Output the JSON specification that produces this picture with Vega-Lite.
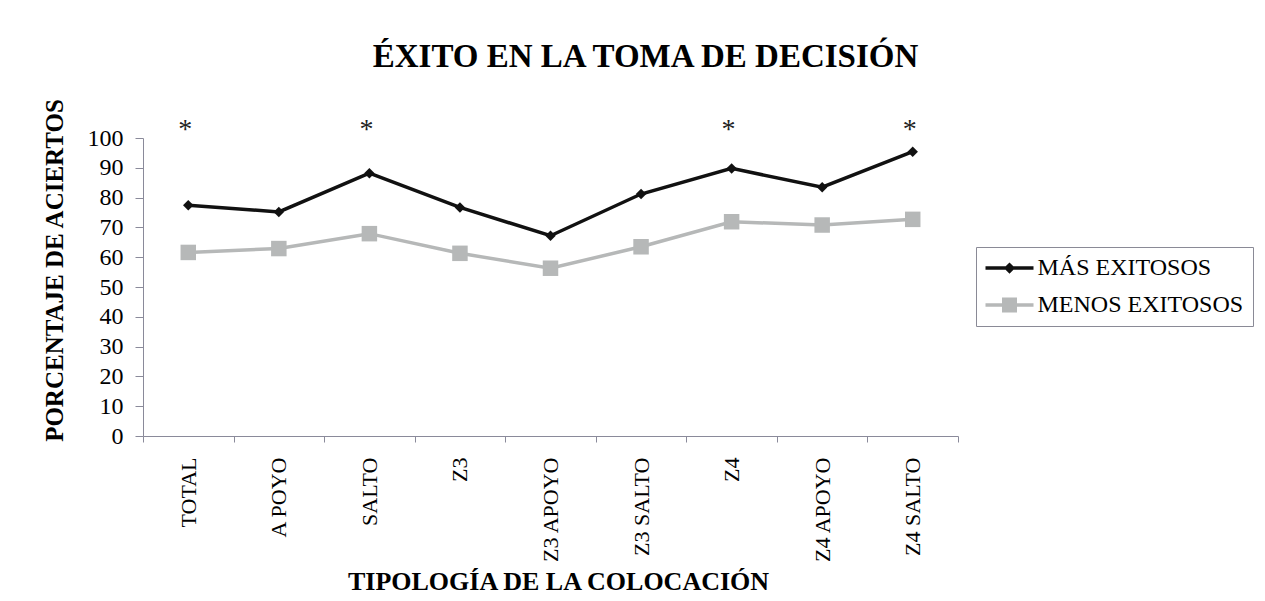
{
  "$schema": "https://vega.github.io/schema/vega-lite/v6.json",
  "autosize": {"type": "none"},
  "padding": {"left": 143, "top": 138, "right": 307, "bottom": 165},
  "width": 815,
  "height": 298,
  "background": "white",
  "config": {"view": {"stroke": null}},
  "title": {"text": "ÉXITO EN LA TOMA DE DECISIÓN", "font": "Liberation Serif", "fontSize": 33, "fontWeight": "bold", "color": "black", "anchor": "middle", "dx": 95, "offset": 24},
  "datasets": {
    "series": [
      {"tipo": "TOTAL", "grupo": "MÁS EXITOSOS", "valor": 77.4},
      {"tipo": "A POYO", "grupo": "MÁS EXITOSOS", "valor": 75.2},
      {"tipo": "SALTO", "grupo": "MÁS EXITOSOS", "valor": 88.2},
      {"tipo": "Z3", "grupo": "MÁS EXITOSOS", "valor": 76.7},
      {"tipo": "Z3 APOYO", "grupo": "MÁS EXITOSOS", "valor": 67.2},
      {"tipo": "Z3 SALTO", "grupo": "MÁS EXITOSOS", "valor": 81.2},
      {"tipo": "Z4", "grupo": "MÁS EXITOSOS", "valor": 89.8},
      {"tipo": "Z4 APOYO", "grupo": "MÁS EXITOSOS", "valor": 83.5},
      {"tipo": "Z4 SALTO", "grupo": "MÁS EXITOSOS", "valor": 95.4},
      {"tipo": "TOTAL", "grupo": "MENOS EXITOSOS", "valor": 61.6},
      {"tipo": "A POYO", "grupo": "MENOS EXITOSOS", "valor": 62.9},
      {"tipo": "SALTO", "grupo": "MENOS EXITOSOS", "valor": 67.9},
      {"tipo": "Z3", "grupo": "MENOS EXITOSOS", "valor": 61.3},
      {"tipo": "Z3 APOYO", "grupo": "MENOS EXITOSOS", "valor": 56.3},
      {"tipo": "Z3 SALTO", "grupo": "MENOS EXITOSOS", "valor": 63.5},
      {"tipo": "Z4", "grupo": "MENOS EXITOSOS", "valor": 71.9},
      {"tipo": "Z4 APOYO", "grupo": "MENOS EXITOSOS", "valor": 70.8},
      {"tipo": "Z4 SALTO", "grupo": "MENOS EXITOSOS", "valor": 72.7}
    ],
    "sig": [
      {"tipo": "TOTAL", "marca": "*", "valor": 100},
      {"tipo": "SALTO", "marca": "*", "valor": 100},
      {"tipo": "Z4", "marca": "*", "valor": 100},
      {"tipo": "Z4 SALTO", "marca": "*", "valor": 100}
    ]
  },
  "encoding": {
    "x": {"field": "tipo", "type": "nominal", "sort": ["TOTAL", "A POYO", "SALTO", "Z3", "Z3 APOYO", "Z3 SALTO", "Z4", "Z4 APOYO", "Z4 SALTO"],
      "scale": {"paddingInner": 0, "paddingOuter": 0},
      "axis": {"title": "TIPOLOGÍA DE LA COLOCACIÓN", "titleFont": "Liberation Serif", "titleFontSize": 26, "titleFontWeight": "bold", "titleColor": "black", "titleX": 415, "titleY": 153, "titleBaseline": "alphabetic", "titleAlign": "center",
        "tickBand": "extent", "tickSize": 6, "tickColor": "#8a8a9a", "domainColor": "#8a8a9a", "labelAngle": 270, "labelPadding": 15, "labelFont": "Liberation Serif", "labelFontSize": 22, "labelColor": "black", "grid": false}},
    "y": {"field": "valor", "type": "quantitative",
      "scale": {"domain": [0, 100]},
      "axis": {"title": "PORCENTAJE DE ACIERTOS", "titleFont": "Liberation Serif", "titleFontSize": 25, "titleFontWeight": "bold", "titleColor": "black", "titleAngle": 270, "titleX": -81, "titleY": 132, "titleBaseline": "alphabetic", "titleAlign": "center",
        "values": [0, 10, 20, 30, 40, 50, 60, 70, 80, 90, 100], "tickCount": 11, "labelOverlap": false, "labelBound": false, "tickSize": 8, "tickColor": "#8a8a9a", "domainColor": "#8a8a9a", "labelPadding": 12, "labelFont": "Liberation Serif", "labelFontSize": 24, "labelColor": "black", "grid": false}}
  },
  "layer": [
    {
      "data": {"name": "series"},
      "mark": {"type": "line", "strokeWidth": 3.5},
      "encoding": {
        "color": {"field": "grupo", "type": "nominal", "scale": {"domain": ["MÁS EXITOSOS", "MENOS EXITOSOS"], "range": ["#111111", "#b6b8b8"]},
          "legend": {"title": null, "orient": "none", "legendX": 833, "legendY": 109, "padding": 9, "strokeColor": "#8a8a96", "fillColor": "white",
            "labelFont": "Liberation Serif", "labelFontSize": 24, "labelColor": "black", "labelLimit": 400, "labelOffset": 16, "rowPadding": 13,
            "symbolSize": 225, "symbolOffset": 12.5, "symbolStrokeWidth": 0, "symbolOpacity": 1,
            "encode": {"symbols": {"update": {
              "shape": {"signal": "datum.value === 'MÁS EXITOSOS' ? 'M-3.2,-0.23H3.2V0.23H-3.2Z M0,-0.75L0.75,0L0,0.75L-0.75,0Z' : 'M-3.2,-0.23H3.2V0.23H-3.2Z M-1,-1H1V1H-1Z'"},
              "fill": {"scale": "color", "field": "value"},
              "stroke": {"value": "transparent"},
              "strokeWidth": {"value": 0},
              "size": {"value": 225}}}}}}
      }
    },
    {
      "data": {"name": "series"},
      "transform": [{"filter": "datum.grupo === 'MÁS EXITOSOS'"}],
      "mark": {"type": "point", "shape": "diamond", "size": 110, "filled": true, "opacity": 1, "strokeWidth": 0, "color": "#111111"}
    },
    {
      "data": {"name": "series"},
      "transform": [{"filter": "datum.grupo === 'MENOS EXITOSOS'"}],
      "mark": {"type": "point", "shape": "square", "size": 240, "filled": true, "opacity": 1, "strokeWidth": 0, "color": "#b6b8b8"}
    },
    {
      "data": {"name": "sig"},
      "mark": {"type": "text", "font": "Liberation Serif", "fontSize": 28, "color": "#222222", "baseline": "alphabetic", "dx": -3},
      "encoding": {
        "text": {"field": "marca"}
      }
    }
  ]
}
